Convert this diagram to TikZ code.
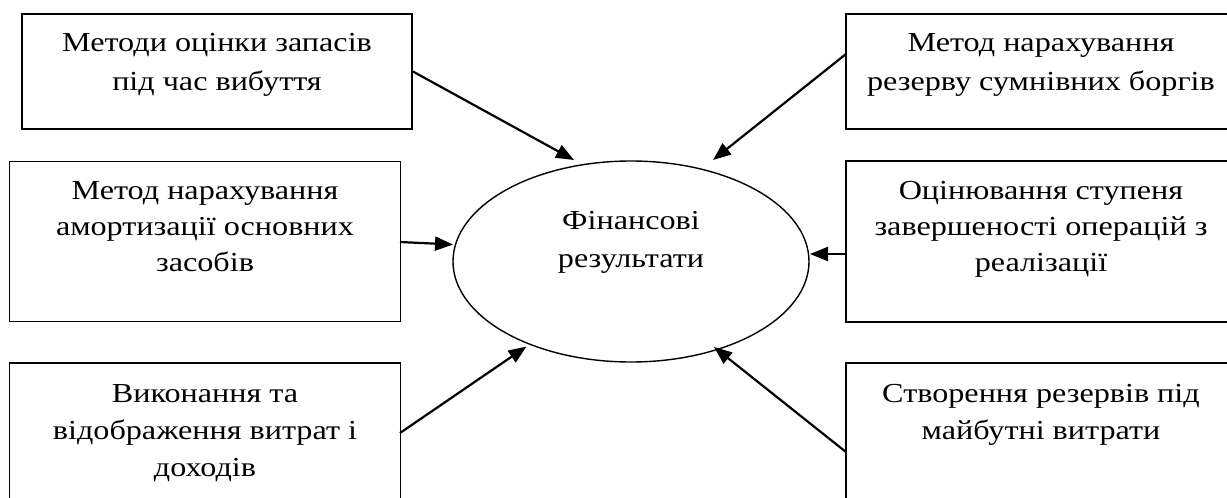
\documentclass[tikz,border=0pt]{standalone}
\usepackage{fontspec}
\setmainfont[FakeStretch=1.17]{Liberation Serif}
\usetikzlibrary{shapes.geometric,arrows.meta}
\tikzset{
  box/.style={draw, line width=1.9pt, rectangle, minimum width=390, inner sep=0},
  rbox/.style={box, minimum width=420},
  lbl/.style={anchor=north, inner sep=0, align=center},
  conn/.style={line width=2.2pt, -{Triangle[length=18pt,width=14pt]}},
}
\begin{document}
\begin{tikzpicture}[x=1pt,y=-1pt]
\useasboundingbox (0,0) rectangle (1227,498);
\clip (0,0) rectangle (1227,498);
% boxes
\node[box, minimum height=115] (b1) at (217,71.5) {};
\node[rbox, minimum height=115] (b2) at (1056,71.5) {};
\node[box, minimum width=391, minimum height=160] (b3) at (205,241.5) {};
\node[rbox, minimum height=161] (b4) at (1056,241.5) {};
\node[box, minimum width=391, minimum height=160] (b5) at (205,443) {};
\node[rbox, minimum height=160] (b6) at (1056,443) {};
% ellipse
\node[draw, ellipse, line width=1.4pt, minimum width=356, minimum height=201, inner sep=0] (fr) at (631,261.5) {};
% texts
\node[lbl, font={\fontsize{27.5}{39}\selectfont}] (t1) at (217,33.3) {Методи оцінки запасів\\під час вибуття};
\node[lbl, font={\fontsize{27.5}{39}\selectfont}] (t2) at (1041,33.3) {Метод нарахування\\резерву сумнівних боргів};
\node[lbl, font={\fontsize{27.5}{36}\selectfont}] (t3) at (205,181.3) {Метод нарахування\\амортизації основних\\засобів};
\node[lbl, font={\fontsize{27.5}{36}\selectfont}] (t4) at (1041,181.3) {Оцінювання ступеня\\завершеності операцій з\\реалізації};
\node[lbl, font={\fontsize{27.5}{37}\selectfont}] (t5) at (205,384.3) {Виконання та\\відображення витрат і\\доходів};
\node[lbl, font={\fontsize{27.5}{37}\selectfont}] (t6) at (1041,384.3) {Створення резервів під\\майбутні витрати};
\node[lbl, font={\fontsize{27.5}{38}\selectfont}] (tc) at (631,211.3) {Фінансові\\результати};
% connector ends
\coordinate (s1) at (b1.east);
\coordinate (e1) at (574,160);
\coordinate (s2) at (846,54);
\coordinate (e2) at (713,160);
\coordinate (s3) at (400,242);
\coordinate (e3) at (453,244.5);
\coordinate (s4) at (846,254);
\coordinate (e4) at (810,254);
\coordinate (s5) at (400,433);
\coordinate (e5) at (526.5,346.5);
\coordinate (s6) at (846,452);
\coordinate (e6) at (714,347);
\draw[conn] (s1) -- (e1);
\draw[conn] (s2) -- (e2);
\draw[conn] (s3) -- (e3);
\draw[conn] (s4) -- (e4);
\draw[conn] (s5) -- (e5);
\draw[conn] (s6) -- (e6);
\end{tikzpicture}
\end{document}
